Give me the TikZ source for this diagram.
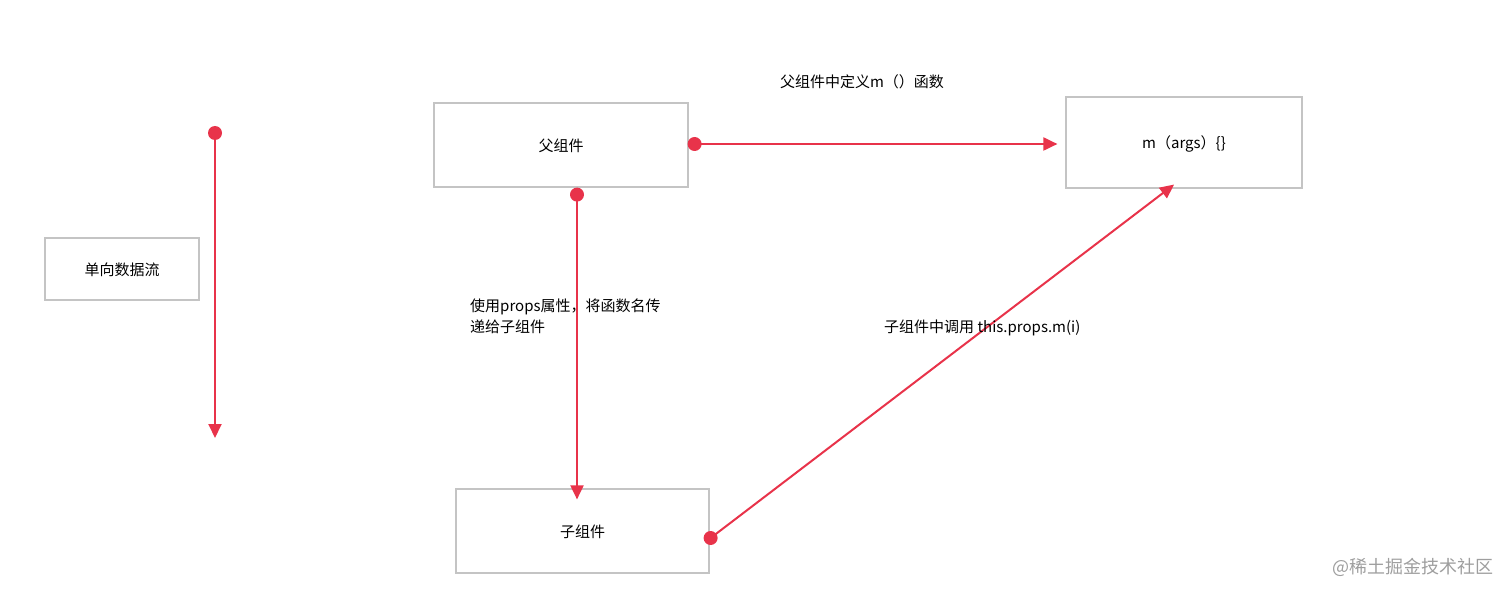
\documentclass[tikz,border=0pt]{standalone}
\usepackage{fontspec}
\setmainfont{Noto Sans CJK SC}
\usetikzlibrary{arrows.meta,calc}
\definecolor{ared}{HTML}{E8334A}
\definecolor{bgray}{HTML}{C4C4C4}
\tikzset{
  box/.style={draw=bgray,line width=1.2pt,fill=white,inner sep=0pt,font=\fontsize{15}{20}\selectfont},
  flow/.style={draw=ared,line width=2pt,-{Triangle[length=14pt,width=13pt]}},
  dot/.style={circle,fill=ared,inner sep=0pt,minimum size=14pt},
  lbl/.style={font=\fontsize{15}{21}\selectfont,inner sep=0pt}
}
\begin{document}
\begin{tikzpicture}[x=1pt,y=-1pt]
\useasboundingbox (0,0) rectangle (1512,596);
\node[box,minimum width=154pt,minimum height=62pt,text depth=-3pt] (flowbox) at (122,269) {单向数据流};
\node[box,minimum width=254pt,minimum height=84pt,text depth=-3pt] (parent) at (561,145) {父组件};
\node[box,minimum width=236pt,minimum height=91pt,text depth=-3pt] (m) at (1184,142.5) {m（args）\{\}};
\node[box,minimum width=253pt,minimum height=84pt,text depth=-3pt] (child) at (582.5,531) {子组件};

% left one-way arrow
\coordinate (ltop) at (215,133);
\coordinate (lbot) at (215,438);
\node[dot] (ldot) at (ltop) {};
\draw[flow] (ldot.center) -- (lbot);

% parent -> m
\node[dot] (pdot) at ($(parent.east)+(6,-1)$) {};
\coordinate (mw) at ($(m.west)+(-8,1.5)$);
\draw[flow] (pdot.center) -- (mw);

% parent -> child
\node[dot] (pdown) at ($(parent.south)+(16,7)$) {};
\coordinate (ctop) at ($(child.north)+(-5.5,11)$);
\draw[flow] (pdown.center) -- (ctop);

% child -> m
\node[dot] (cdot) at ($(child.east)+(1,7)$) {};
\coordinate (mb) at ($(m.south)+(-10,-4)$);
\draw[flow] (cdot.center) -- (mb);

% labels
\node[lbl] (l1) at (862,82) {父组件中定义m（）函数};
\node[lbl,anchor=north west,align=left] (l2) at (470,299) {使用props属性，将函数名传\\递给子组件};
\node[lbl,anchor=west] (l3) at (884,328) {子组件中调用 this.props.m(i)};
\node[lbl,anchor=west,text=black!38,font=\fontsize{18}{22}\selectfont] (wm) at (1332,567) {@稀土掘金技术社区};
\end{tikzpicture}
\end{document}
